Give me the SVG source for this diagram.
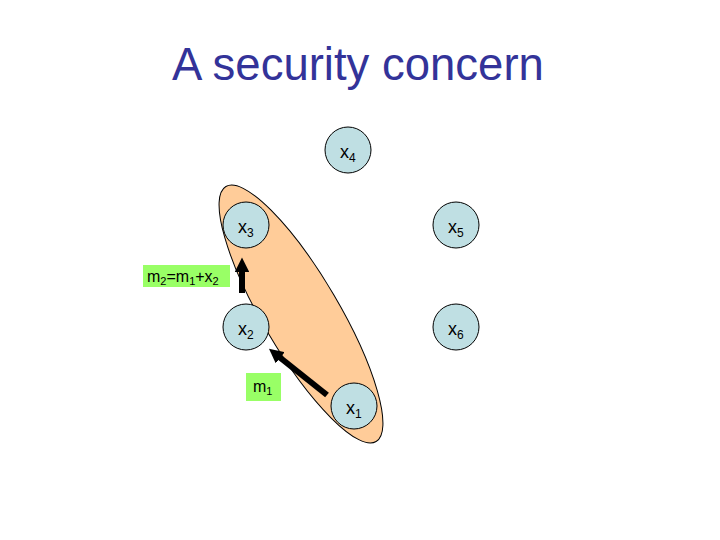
<svg xmlns="http://www.w3.org/2000/svg" width="720" height="540" viewBox="0 0 720 540">
<defs>
<style>
.node{fill:#BFDFE3;stroke:#000;stroke-width:1}
.lbl{font-family:"Liberation Sans",Arial,sans-serif;font-size:18px;fill:#000}
.sub{font-size:12px}
.box{fill:#99FF66}
.btxt{font-family:"Liberation Sans",Arial,sans-serif;font-size:16px;fill:#000}
.bsub{font-size:11px}
.arr{stroke:#000;stroke-width:6;fill:none}
</style>
<marker id="ah" viewBox="0 0 10 10" refX="2" refY="5" markerWidth="2.4" markerHeight="2.4" orient="auto" markerUnits="strokeWidth">
<path d="M0,0 L10,5 L0,10 z" fill="#000"/>
</marker>
</defs>
<rect width="720" height="540" fill="#fff"/>
<text x="358" y="80" text-anchor="middle" font-family="'Liberation Sans',Arial,sans-serif" font-size="45.5" fill="#333399">A security concern</text>
<g id="group">
<ellipse cx="301" cy="314" rx="148" ry="38" transform="rotate(59.5 301 314)" fill="#FFCC99" stroke="#000" stroke-width="1"/>
</g>
<g id="x4"><circle class="node" cx="348" cy="150" r="23"/><text class="lbl" x="340" y="158">x<tspan class="sub" dy="4">4</tspan></text></g>
<g id="x3"><circle class="node" cx="246" cy="225" r="23"/><text class="lbl" x="238" y="233">x<tspan class="sub" dy="4">3</tspan></text></g>
<g id="x5"><circle class="node" cx="456" cy="225" r="23"/><text class="lbl" x="448" y="233">x<tspan class="sub" dy="4">5</tspan></text></g>
<g id="x2"><circle class="node" cx="246" cy="327" r="23"/><text class="lbl" x="238" y="335">x<tspan class="sub" dy="4">2</tspan></text></g>
<g id="x6"><circle class="node" cx="456" cy="327" r="23"/><text class="lbl" x="448" y="335">x<tspan class="sub" dy="4">6</tspan></text></g>
<g id="x1"><circle class="node" cx="354" cy="406" r="23"/><text class="lbl" x="346" y="414">x<tspan class="sub" dy="4">1</tspan></text></g>
<g id="m2label"><rect class="box" x="143" y="265" width="87" height="22"/><text class="btxt" x="147" y="282">m<tspan class="bsub" dy="3">2</tspan><tspan dy="-3">=m</tspan><tspan class="bsub" dy="3">1</tspan><tspan dy="-3">+x</tspan><tspan class="bsub" dy="3">2</tspan></text></g>
<g id="m1label"><rect class="box" x="246" y="373" width="35" height="28"/><text class="btxt" x="253" y="392">m<tspan class="bsub" dy="3">1</tspan></text></g>
<g id="connectors">
<line class="arr" x1="242" y1="293" x2="242" y2="269" marker-end="url(#ah)"/>
<line class="arr" x1="327" y1="395" x2="278" y2="356" marker-end="url(#ah)"/>
</g>
</svg>
